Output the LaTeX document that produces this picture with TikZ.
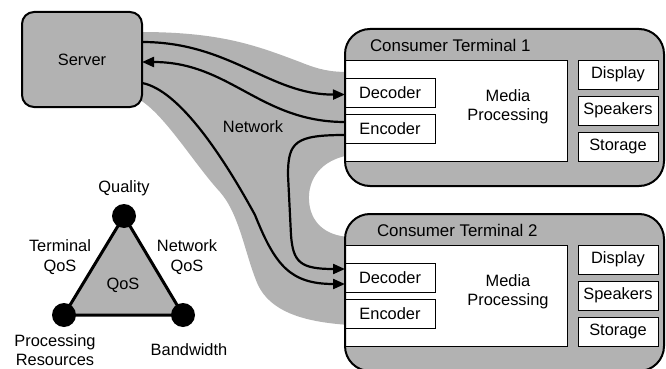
\documentclass[tikz,border=0pt]{standalone}
\usepackage{fontspec}
\setmainfont{Liberation Sans}
\usetikzlibrary{arrows.meta,backgrounds,calc}
\definecolor{boxgray}{gray}{0.70}
\begin{document}
\begin{tikzpicture}[x=1pt,y=-1pt,
  font=\fontsize{16.4}{19.5}\selectfont,
  every node/.style={inner sep=0pt, outer sep=0pt},
  srvbox/.style={draw, line width=2pt, fill=boxgray, rounded corners=12pt,
    minimum width=120pt, minimum height=95pt, anchor=north west},
  termbox/.style={fill=boxgray, minimum width=319pt, minimum height=157pt,
    anchor=north west},
  titletext/.style={anchor=west, font=\fontsize{16.9}{19.5}\selectfont},
  mediabox/.style={draw, line width=0.8pt, fill=white, minimum width=222pt,
    minimum height=101pt, anchor=north west},
  codecbox/.style={draw, line width=0.8pt, fill=white, minimum width=90pt,
    minimum height=29pt, anchor=north west},
  devbox/.style={draw, line width=0.8pt, fill=white, minimum width=80pt,
    minimum height=29pt, anchor=north west},
  link/.style={line width=2.2pt},
  tip/.style={-{Triangle[length=12pt,width=10pt]}},
  vertex/.style={circle, fill=black, minimum size=24pt}
]
\useasboundingbox (0,0) rectangle (666,369);

% server
\node[srvbox] (srv) at (22,12) {Server};

% the two consumer terminals
\foreach \i/\dy/\tx in {1/0/370,2/185/377}{
  \node[termbox, rounded corners=25pt] (term\i) at (345,29+\dy) {};
  \node[titletext] (ttl\i) at (\tx,45+\dy) {Consumer Terminal \i};
  \node[mediabox] (media\i) at (345,60+\dy) {};
  \node[align=center] (mp\i) at (508,107+\dy) {Media\\Processing};
  \node[codecbox] (dec\i) at (345,78+\dy) {Decoder};
  \node[codecbox] (enc\i) at (345,114+\dy) {Encoder};
  \node[devbox] (disp\i) at (578,60+\dy) {Display};
  \node[devbox] (spk\i) at (578,96+\dy) {Speakers};
  \node[devbox] (stor\i) at (578,132+\dy) {Storage};
  \draw[line width=2pt, rounded corners=25pt]
    (term\i.north west) rectangle (term\i.south east);
}

% network cloud
\begin{scope}[on background layer]
\fill[boxgray] (140,32) .. controls (220,32) and (255,45) .. (300,62)
  .. controls (320,70) and (330,72) .. (350,72) -- (350,155)
  .. controls (320,160) and (308,180) .. (309,200)
  .. controls (310,222) and (325,236) .. (350,237) -- (350,325)
  .. controls (300,322) and (270,310) .. (258,285)
  .. controls (245,255) and (240,215) .. (220,192)
  .. controls (195,165) and (165,115) .. (140,100) -- cycle;
\end{scope}
\node (net) at (253,127) {Network};

% streams
\draw[link, tip] ([yshift=17.5pt]srv.east) .. controls (230,42) and (270,95) .. ([yshift=-2pt]dec1.west);
\draw[link, tip] ([yshift=6.5pt]enc1.west) .. controls (260,122) and (230,62) .. ([yshift=-2.5pt]srv.east);
\draw[link, tip] ([yshift=-23.5pt]srv.east) .. controls (180,90) and (225,160) .. (255,215)
  .. controls (275,265) and (290,284) .. ([yshift=-6.5pt]dec2.west);
\draw[link, tip] ([yshift=-6.5pt]enc1.west) .. controls (295,135) and (288,142) .. (288,175)
  -- (291,235) .. controls (293,262) and (300,269) .. ([yshift=8.5pt]dec2.west);

% QoS triangle
\node[vertex] (qual) at (124,216) {};
\node[vertex] (proc) at (64,315) {};
\node[vertex] (band) at (183,315) {};
\begin{scope}[on background layer]
\draw[line width=3pt, fill=boxgray, line join=round]
  (qual.center) -- (proc.center) -- (band.center) -- cycle;
\end{scope}
\node (lq) at (124,188) {Quality};
\node[align=center] (lt) at (60,257) {Terminal\\QoS};
\node[align=center] (ln) at (187,257) {Network\\QoS};
\node (lqos) at (123,285) {QoS};
\node[align=center] (lp) at (55,350) {Processing\\Resources};
\node (lb) at (189,350) {Bandwidth};
\end{tikzpicture}
\end{document}
